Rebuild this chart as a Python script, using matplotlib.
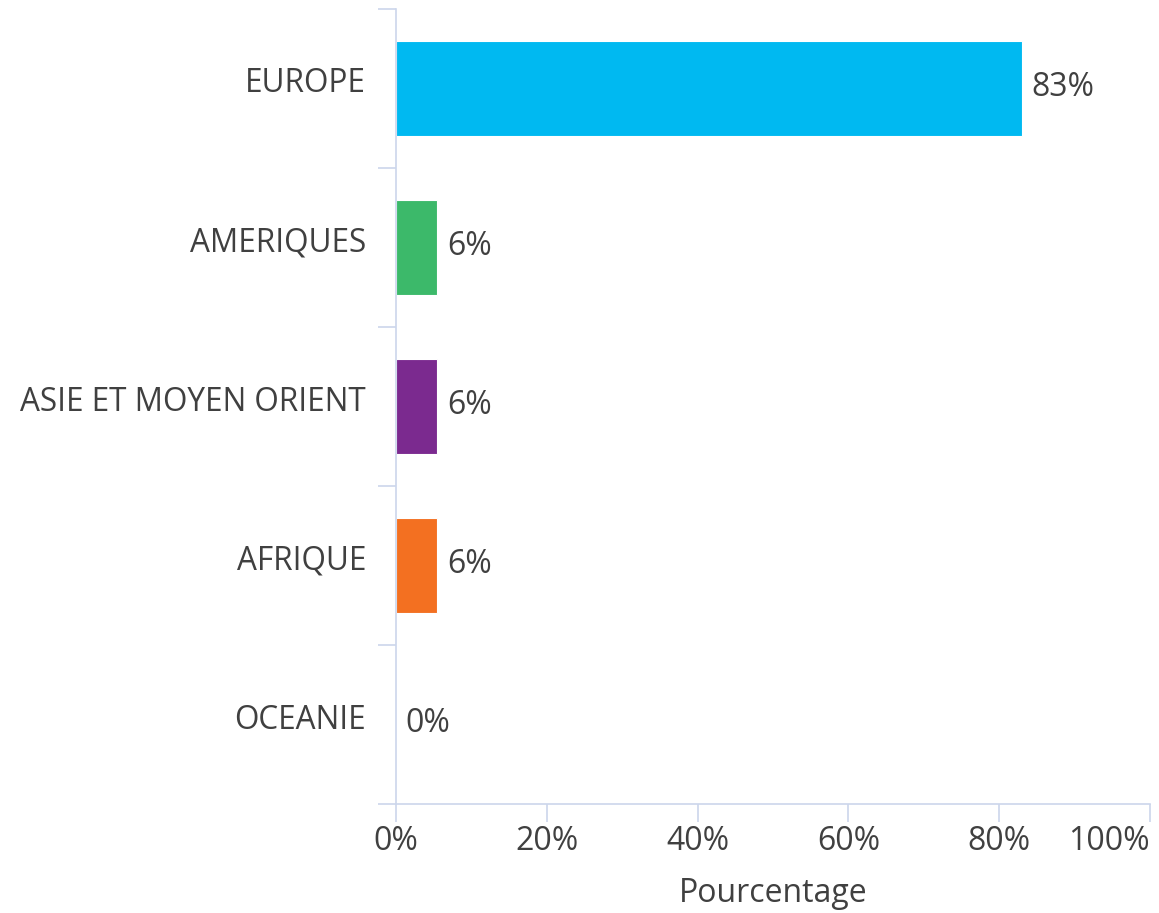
import matplotlib.pyplot as plt
import matplotlib.transforms as mtransforms
import numpy as np

plt.rcParams['font.family'] = ['Open Sans', 'DejaVu Sans']

categories = ['EUROPE', 'AMERIQUES', 'ASIE ET MOYEN ORIENT', 'AFRIQUE', 'OCEANIE']
values = [83.0, 5.5, 5.5, 5.5, 0.0]
labels = ['83%', '6%', '6%', '6%', '0%']
colors = ['#00b9f1', '#3cb96a', '#7b2a8f', '#f37021', '#7cb5ec']
xticks = [0, 20, 40, 60, 80, 100]

text_col = '#404040'
axis_col = '#ccd6eb'
fs = 23

fig = plt.figure(figsize=(11.59, 9.13), dpi=100)
ax = fig.add_axes([396 / 1159, 1 - 804 / 913, (1150 - 396) / 1159, (804 - 9) / 913])

up1 = mtransforms.ScaledTranslation(0, 1 / 100, fig.dpi_scale_trans)
up8 = mtransforms.ScaledTranslation(0, 8.5 / 100, fig.dpi_scale_trans)

y = np.arange(len(categories))
ax.barh(y, values, height=0.6, color=colors, edgecolor='white', linewidth=0.8)
for yi, v, lab in zip(y, values, labels):
    ax.text(v + 1.3, yi, lab, va='center', ha='left', fontsize=fs, color=text_col,
            transform=ax.transData + up1)

ax.set_xlim(0, 100)
ax.set_ylim(len(categories) - 0.5, -0.5)

# categories as labels, ticks at the band boundaries
ax.set_yticks(y)
ax.set_yticklabels(categories, fontsize=22.7, color=text_col)
ax.tick_params(axis='y', which='major', length=0, pad=21.5)
for t in ax.get_yticklabels():
    t.set_transform(t.get_transform() + up8)
ax.set_yticks(np.arange(-0.5, len(categories)), minor=True)
ax.tick_params(axis='y', which='minor', length=13, width=1.2, color=axis_col)

ax.set_xticks(xticks)
ax.set_xticklabels([f'{t}%' for t in xticks], fontsize=fs, color=text_col)
ax.tick_params(axis='x', length=13, width=1.2, color=axis_col, pad=2)
ax.get_xticklabels()[-1].set_horizontalalignment('right')

ax.set_xlabel('Pourcentage', fontsize=fs, color=text_col, labelpad=14)

for s in ['top', 'right']:
    ax.spines[s].set_visible(False)
for s in ['left', 'bottom']:
    ax.spines[s].set_color(axis_col)
    ax.spines[s].set_linewidth(1.2)

fig.savefig('out.png', dpi=100)
